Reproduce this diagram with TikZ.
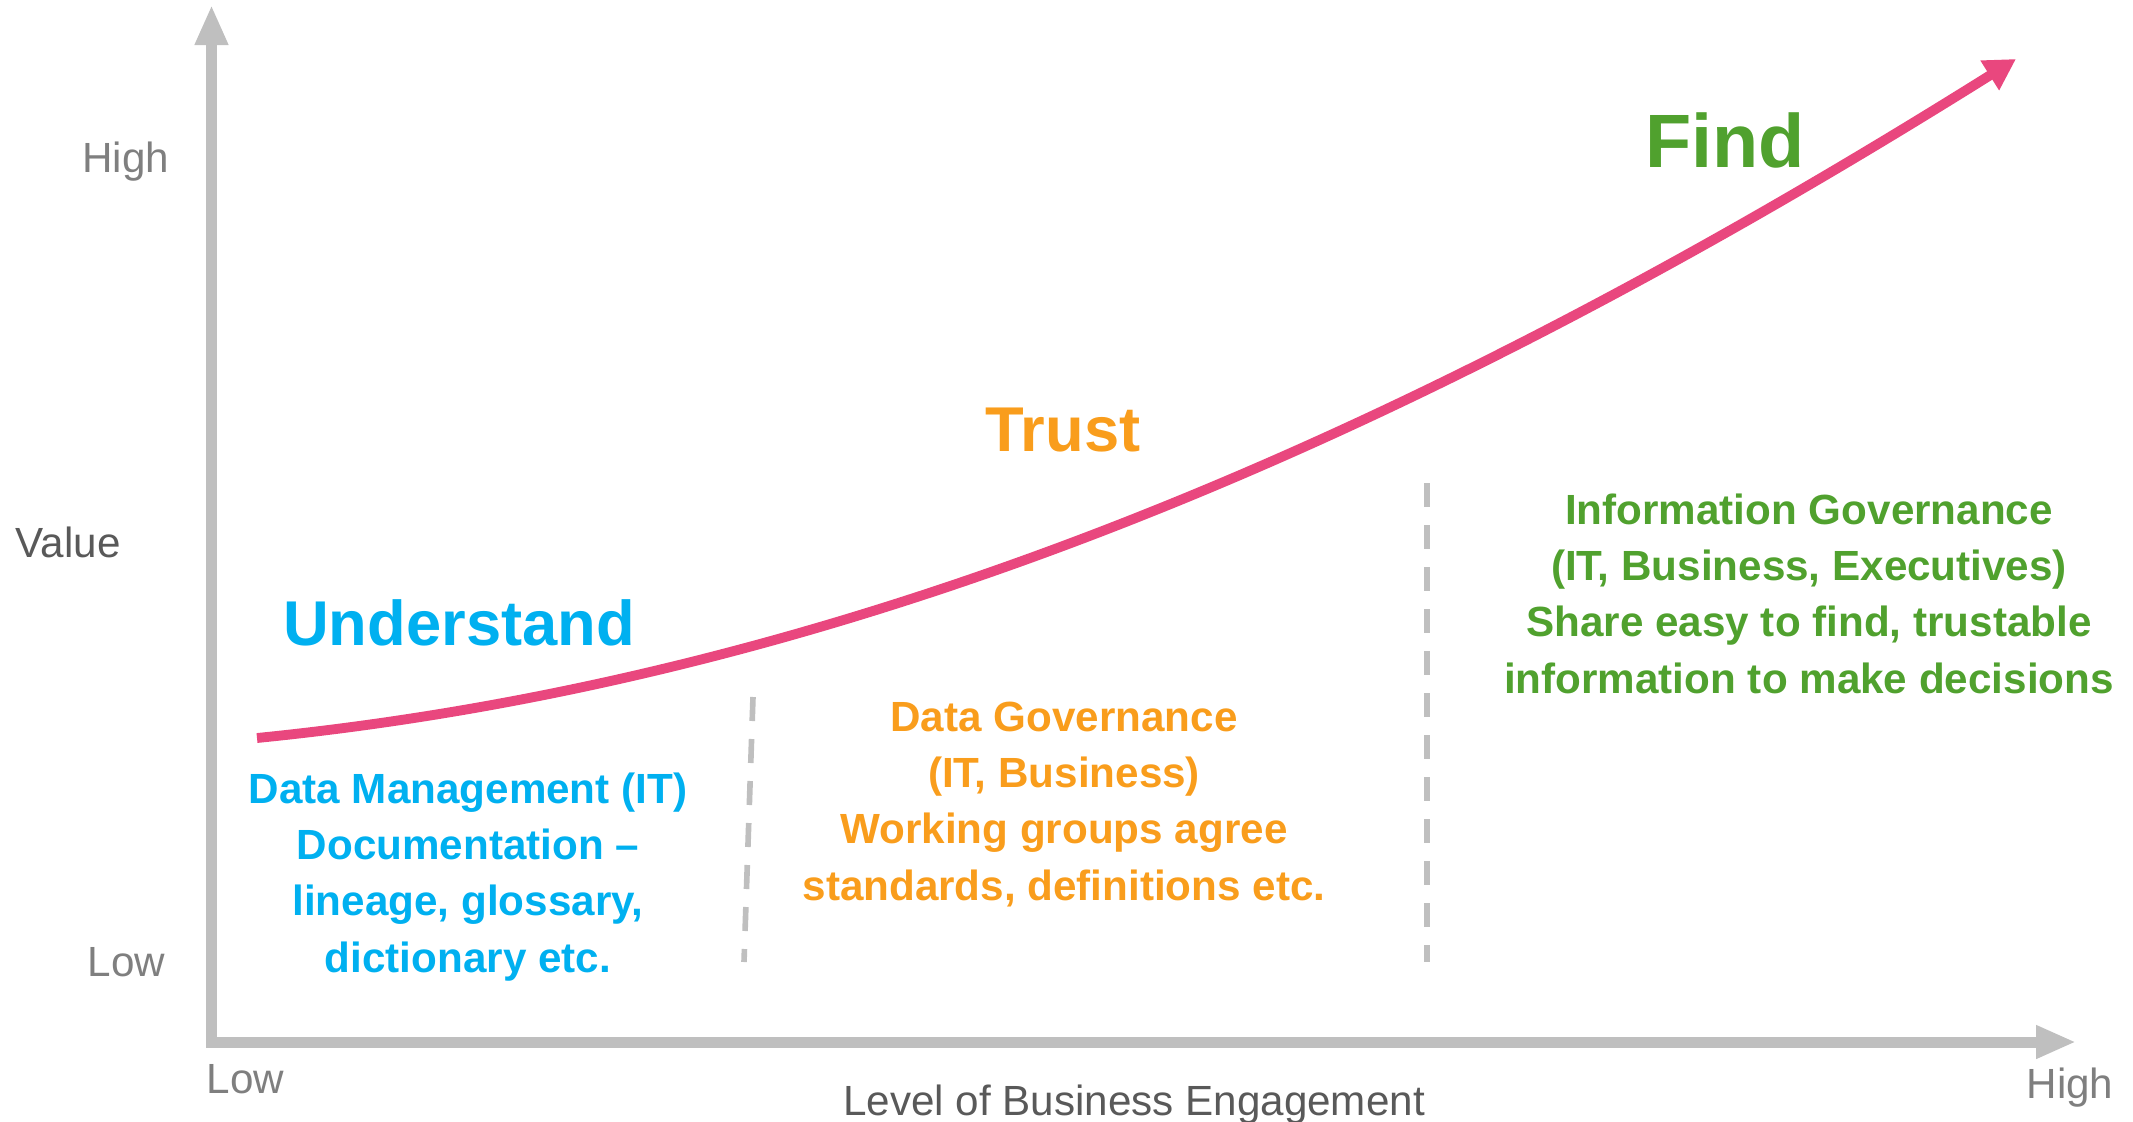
\documentclass[tikz,border=0pt]{standalone}
\usepackage{fontspec}
\setmainfont{Liberation Sans}
\usetikzlibrary{arrows.meta}
\definecolor{understandblue}{HTML}{00B0F0}
\definecolor{trustorange}{HTML}{F99D1C}
\definecolor{findgreen}{HTML}{50A12E}
\definecolor{curvepink}{HTML}{E9477E}
\definecolor{axisgray}{HTML}{BFBFBF}
\definecolor{tickgray}{HTML}{7F7F7F}
\definecolor{namegray}{HTML}{595959}

\begin{document}
\begin{tikzpicture}[x=0.01cm,y=-0.01cm,inner sep=0pt,
  axis/.style={draw=axisgray,line width=3.13pt,{Triangle[length=0.4cm,width=0.31cm]}-{Triangle[length=0.4cm,width=0.31cm]}},
  growth/.style={draw=curvepink,line width=2.8pt,-{Triangle[length=0.31cm,width=0.33cm]}},
  divider/.style={draw=axisgray,line width=1.6pt,dash pattern=on 0.24cm off 0.18cm},
  tick node/.style={text=tickgray,font=\fontsize{12}{14}\selectfont},
  name node/.style={text=namegray,font=\fontsize{12}{14}\selectfont},
  stage node/.style={anchor=base,font=\fontsize{18}{22}\selectfont\bfseries},
  block node/.style={anchor=base,align=center,font=\fontsize{12}{15.93}\selectfont\bfseries}]
  \useasboundingbox (0,0) rectangle (2133,1121);

  \coordinate (ytip) at (211.5,5);
  \coordinate (xtip) at (2076,1042);
  \coordinate (start) at (257,738);
  \coordinate (tip) at (2016,59);
  \coordinate (d1top) at (753,697);
  \coordinate (d1bot) at (744,962);
  \coordinate (d2top) at (1427,483);
  \coordinate (d2bot) at (1427,962);

  \draw[axis] (ytip) |- (xtip);
  \draw[divider] (d1top) -- (d1bot);
  \draw[divider] (d2top) -- (d2bot);
  \draw[growth] (start) .. controls (857,678) and (1416,435) .. (tip);

  \node[tick node,anchor=base east] (yhigh) at (170,172) {High};
  \node[name node,anchor=base west] (value) at (15,557) {Value};
  \node[tick node,anchor=base east] (ylow) at (166,976) {Low};
  \node[tick node,anchor=base west] (xlow) at (206,1093) {Low};
  \node[name node,anchor=base] (engagement) at (1134,1115) {Level of Business Engagement};
  \node[tick node,anchor=base] (xhigh) at (2070,1098) {High};

  \node[stage node,text=understandblue] (understand) at (459,645) {Understand};
  \node[stage node,text=trustorange] (trust) at (1063,451) {Trust};
  \node[stage node,text=findgreen,font=\fontsize{21.5}{26}\selectfont\bfseries] (find) at (1725,167) {Find};

  % base of a block is the baseline of its last line
  \node[block node,text=understandblue] (datamgmt) at (468,972)
    {Data Management (IT)\\Documentation –\\lineage, glossary,\\dictionary etc.};
  \node[block node,text=trustorange] (datagov) at (1064,900)
    {Data Governance\\(IT, Business)\\Working groups agree\\standards, definitions etc.};
  \node[block node,text=findgreen] (infogov) at (1809,693)
    {Information Governance\\(IT, Business, Executives)\\Share easy to find, trustable\\information to make decisions};
\end{tikzpicture}
\end{document}
